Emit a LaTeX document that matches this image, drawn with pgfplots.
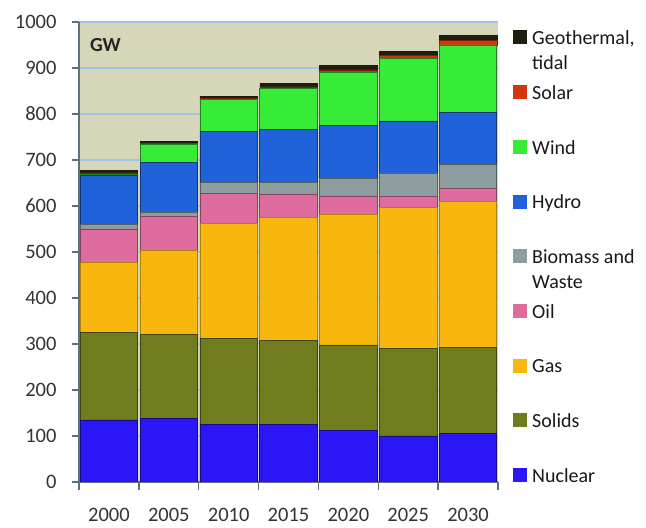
\documentclass[border=0pt]{standalone}
\usepackage{fontspec}
\setmainfont{Carlito}
\usepackage{pgfplots}
\usepackage{pgfplotstable}
\pgfplotsset{compat=1.18}

\definecolor{cNuc}{HTML}{2A16F6}
\definecolor{cSol}{HTML}{707C1E}
\definecolor{cGas}{HTML}{F8B70C}
\definecolor{cOil}{HTML}{DE6C9E}
\definecolor{cBio}{HTML}{8E9EA0}
\definecolor{cHyd}{HTML}{1F62DA}
\definecolor{cWin}{HTML}{36EC36}
\definecolor{cSolar}{HTML}{D2340E}
\definecolor{cGeo}{HTML}{1E1E10}
\definecolor{cBg}{HTML}{D6D6B8}
\definecolor{cGrid}{HTML}{A4C2E6}
\definecolor{cAxis}{HTML}{5E707C}
\definecolor{cTick}{HTML}{333333}

% capacity in GW
\pgfplotstableread{
x Nuclear Solids Gas Oil Biomass Hydro Wind Solar Geo
0 135 190 153 72 10 107   2  3  6
1 138 182 184 73 10 108  40  1  4
2 126 186 250 66 24 110  70  2  4
3 125 182 268 51 26 115  88  4  7
4 113 185 284 40 38 115 115  6  9
5 100 191 305 24 52 113 135  8  8
6 105 187 318 28 52 113 147 10 11
}\data

\newcommand{\legbox}[1]{\raisebox{0pt}[16bp][3bp]{#1}}
\newcommand{\geo}{\begin{tabular}[t]{@{}l@{}}Geothermal,\\tidal\end{tabular}}
\newcommand{\bio}{\begin{tabular}[t]{@{}l@{}}Biomass and\\Waste\end{tabular}}

\begin{document}
\begin{tikzpicture}
\useasboundingbox (-79bp,-46bp) rectangle (567bp,482bp);
\begin{axis}[
  at={(0,0)}, anchor=south west,
  scale only axis, width=419bp, height=460bp,
  ybar stacked, bar width=0.96,
  xmin=-0.5, xmax=6.5, ymin=0, ymax=1000,
  xtick={0,...,6},
  xticklabels={2000,2005,2010,2015,2020,2025,2030},
  minor xtick={-0.5,0.5,...,6.5},
  ytick={0,100,...,1000},
  axis x line*=bottom, axis y line*=left,
  axis line style={-, draw=cAxis, line width=2.6bp},
  axis background/.style={fill=cBg},
  ymajorgrids, grid style={draw=cGrid, line width=1.3bp},
  tick align=outside,
  tick style={draw=cAxis, line width=1.4bp},
  major tick length=7bp, minor tick length=8bp,
  major x tick style={draw=none},
  /pgf/number format/assume math mode=true,
  /pgf/number format/1000 sep={},
  yticklabel style={font=\fontsize{20.5bp}{24bp}\selectfont, text=cTick, xshift=-12bp},
  xticklabel style={font=\fontsize{20.5bp}{24bp}\selectfont, text=cTick,
    inner sep=0pt, yshift=-19bp},
  reverse legend, legend cell align=left,
  legend style={draw=none, fill=none, at={(1,1)}, anchor=north west,
    xshift=15bp, yshift=-6.5bp, inner sep=0pt, row sep=37.2bp, column sep=5bp,
    nodes={inner sep=0pt}, text=black!90,
    font=\fontsize{20bp}{25bp}\selectfont},
  legend image code/.code={\path[#1, draw=none] (0bp,-7bp) rectangle (14bp,7bp);},
]
\addplot[fill=cNuc, draw=cNuc!55!black, line width=0.7bp] table[x=x, y=Nuclear]{\data};
\addlegendentry{\legbox{Nuclear}}
\addplot[fill=cSol, draw=cSol!55!black, line width=0.7bp] table[x=x, y=Solids]{\data};
\addlegendentry{\legbox{Solids}}
\addplot[fill=cGas, draw=cGas!70!black, line width=0.7bp] table[x=x, y=Gas]{\data};
\addlegendentry{\legbox{Gas}}
\addplot[fill=cOil, draw=cOil!60!black, line width=0.7bp] table[x=x, y=Oil]{\data};
\addlegendentry{\legbox{Oil}}
\addplot[fill=cBio, draw=cBio!60!black, line width=0.7bp] table[x=x, y=Biomass]{\data};
\addlegendentry{\legbox{\bio}}
\addplot[fill=cHyd, draw=cHyd!55!black, line width=0.7bp] table[x=x, y=Hydro]{\data};
\addlegendentry{\legbox{Hydro}}
\addplot[fill=cWin, draw=cWin!55!black, line width=0.7bp] table[x=x, y=Wind]{\data};
\addlegendentry{\legbox{Wind}}
\addplot[fill=cSolar, draw=cSolar!60!black, line width=0.5bp] table[x=x, y=Solar]{\data};
\addlegendentry{\legbox{Solar}}
\addplot[fill=cGeo, draw=cGeo, line width=0.5bp] table[x=x, y=Geo]{\data};
\addlegendentry{\legbox{\geo}}
\node[font=\fontsize{20bp}{24bp}\selectfont\bfseries, text=black!85] at (axis description cs:0.063,0.95) {GW};
\end{axis}
\end{tikzpicture}
\end{document}
